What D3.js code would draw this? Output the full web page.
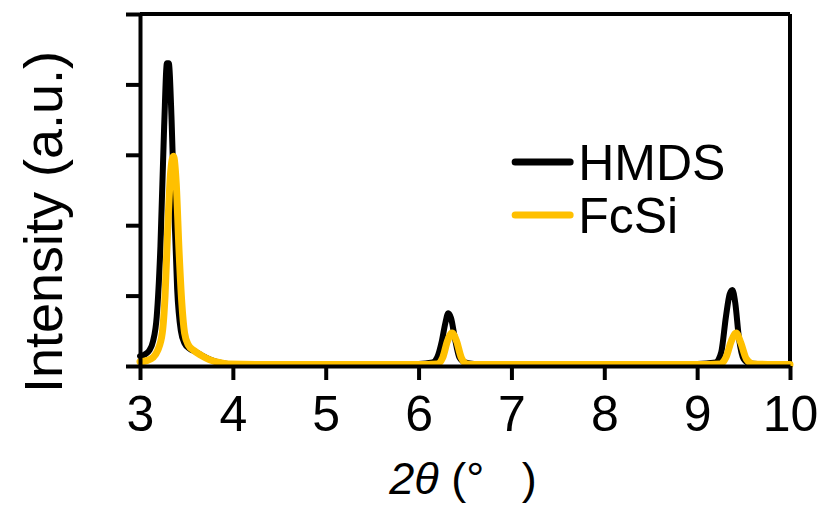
<!DOCTYPE html>
<html lang="en">
<head>
    <meta charset="UTF-8">
    <title>XRD patterns</title>
    <script src="https://d3js.org/d3.v7.min.js"></script>
    <style>
        body {
            margin: 0;
            background: #fff;
            font-family: "Liberation Sans", Arial, sans-serif;
        }
        .axis path, .axis line {
            stroke: #000;
            stroke-width: 4;
        }
        .axis text {
            font-family: "Liberation Sans", Arial, sans-serif;
            font-size: 50px;
            fill: #000;
        }
    </style>
</head>
<body>
    <div id="chart"></div>
    <script>
        // Series (2theta in degrees, intensity in a.u.)
        const hmdsX = [3.00, 3.06, 3.10, 3.14, 3.18, 3.22, 3.26, 3.29, 3.31, 3.34, 3.37, 3.40, 3.44, 3.48, 3.53, 3.60, 3.68, 3.76, 3.85, 3.95, 4.5, 5.0, 5.5, 6.0,
                       6.15, 6.20, 6.25, 6.29, 6.32, 6.35, 6.39, 6.44, 6.50, 6.60, 7.0, 8.0, 9.0,
                       9.20, 9.26, 9.31, 9.35, 9.38, 9.41, 9.45, 9.50, 9.56, 9.65, 10.0];
        const hmdsY = [0.14, 0.17, 0.22, 0.35, 0.7, 1.7, 3.4, 4.3, 4.3, 3.5, 2.2, 1.1, 0.5, 0.32, 0.25, 0.2, 0.14, 0.09, 0.05, 0.03, 0.03, 0.03, 0.03, 0.03,
                       0.05, 0.12, 0.35, 0.62, 0.75, 0.68, 0.4, 0.12, 0.05, 0.03, 0.03, 0.03, 0.03,
                       0.05, 0.2, 0.7, 1.02, 1.08, 0.9, 0.4, 0.1, 0.04, 0.03, 0.03];

        const fcsiX = [3.00, 3.08, 3.14, 3.19, 3.24, 3.27, 3.30, 3.33, 3.36, 3.39, 3.42, 3.45, 3.48, 3.52, 3.58, 3.66, 3.75, 3.85, 3.95, 4.5, 5.0, 5.5, 6.0,
                       6.20, 6.26, 6.31, 6.36, 6.41, 6.46, 6.52, 6.60, 7.0, 8.0, 9.0,
                       9.25, 9.31, 9.37, 9.42, 9.47, 9.53, 9.60, 10.0];
        const fcsiY = [0.06, 0.08, 0.12, 0.22, 0.47, 1.0, 2.0, 2.75, 2.98, 2.6, 1.65, 0.9, 0.47, 0.3, 0.22, 0.15, 0.09, 0.05, 0.03, 0.02, 0.02, 0.02, 0.02,
                       0.03, 0.12, 0.35, 0.47, 0.35, 0.12, 0.03, 0.02, 0.02, 0.02, 0.02,
                       0.03, 0.12, 0.36, 0.47, 0.33, 0.1, 0.03, 0.02];

        const seriesNames = ["HMDS", "FcSi"];
        const seriesColors = ["#000000", "#ffc000"];
        const xTicks = [3, 4, 5, 6, 7, 8, 9, 10];
        const yTicks = [0, 1, 2, 3, 4, 5];

        const W = 821, H = 505;
        const margin = {top: 14, right: 31, bottom: 139, left: 140};
        const width = W - margin.left - margin.right;
        const height = H - margin.top - margin.bottom;

        const svg = d3.select("#chart")
            .append("svg")
                .attr("width", W)
                .attr("height", H);

        const g = svg.append("g")
            .attr("transform", `translate(${margin.left},${margin.top})`);

        const x = d3.scaleLinear().domain([3, 10]).range([0, width]);
        const y = d3.scaleLinear().domain([0, 5]).range([height, 0]);

        // Frame: top and right borders
        g.append("line")
            .attr("x1", 0).attr("x2", width)
            .attr("y1", 0).attr("y2", 0)
            .attr("stroke", "#000").attr("stroke-width", 4);
        g.append("line")
            .attr("x1", width).attr("x2", width)
            .attr("y1", 0).attr("y2", height)
            .attr("stroke", "#000").attr("stroke-width", 4);

        // Lines
        const series = [
            {name: seriesNames[0], color: seriesColors[0], width: 6, pts: hmdsX.map((v, i) => [v, hmdsY[i]])},
            {name: seriesNames[1], color: seriesColors[1], width: 7, pts: fcsiX.map((v, i) => [v, fcsiY[i]])}
        ];

        const line = d3.line()
            .x(d => x(d[0]))
            .y(d => y(d[1]))
            .curve(d3.curveMonotoneX);

        series.forEach(s => {
            g.append("path")
                .datum(s.pts)
                .attr("fill", "none")
                .attr("stroke", s.color)
                .attr("stroke-width", s.width)
                .attr("stroke-linejoin", "round")
                .attr("stroke-linecap", "round")
                .attr("d", line);
        });

        // Axes
        g.append("g")
            .attr("class", "axis")
            .attr("transform", `translate(0,${height})`)
            .call(d3.axisBottom(x).tickValues(xTicks).tickSize(14).tickSizeOuter(0).tickPadding(15).tickFormat(d3.format("d")));

        g.append("g")
            .attr("class", "axis")
            .call(d3.axisLeft(y).tickValues(yTicks).tickSize(14).tickSizeOuter(0).tickFormat(""));

        // Axis titles
        svg.append("text")
            .attr("transform", `translate(62,222) rotate(-90)`)
            .attr("text-anchor", "middle")
            .style("font-size", "54px")
            .text("Intensity (a.u.)");

        const xt = svg.append("text")
            .attr("x", 463)
            .attr("y", 494)
            .attr("text-anchor", "middle")
            .style("font-size", "45px");
        xt.append("tspan").style("font-style", "italic").text("2θ");
        xt.append("tspan").text(" (°\u00a0\u00a0\u00a0)");

        // Legend
        const legend = g.append("g")
            .attr("transform", `translate(${x(3.4) + 338},${148})`);
        series.forEach((s, i) => {
            const row = legend.append("g").attr("transform", `translate(0,${i * 53})`);
            row.append("line")
                .attr("x1", 0).attr("x2", 55)
                .attr("y1", 0).attr("y2", 0)
                .attr("stroke", s.color)
                .attr("stroke-width", 7)
                .attr("stroke-linecap", "round");
            row.append("text")
                .attr("x", 63)
                .attr("y", 18)
                .style("font-size", "50px")
                .text(s.name);
        });
    </script>
</body>
</html>
